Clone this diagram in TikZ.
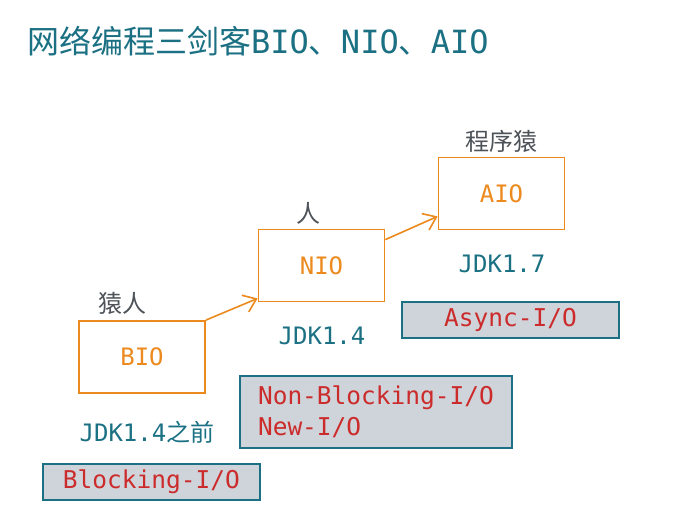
\documentclass[tikz,border=0pt]{standalone}
\usepackage{fontspec}
\setmonofont{DejaVu Sans Mono}
\newfontfamily\cjk{Noto Sans CJK SC}
\usetikzlibrary{arrows.meta,positioning}
\definecolor{ioorange}{HTML}{EC8A1E}
\definecolor{ioteal}{HTML}{1B7183}
\definecolor{iogray}{HTML}{CED4DA}
\definecolor{iored}{HTML}{CC2B2B}
\definecolor{iotext}{HTML}{4D5358}
\tikzset{
  iobox/.style={draw=ioorange,line width=1.8pt,minimum width=126pt,minimum height=72pt,
    text=ioorange,font=\ttfamily\fontsize{24}{28}\selectfont},
  tagbox/.style={draw=ioteal,fill=iogray,line width=1.8pt,inner sep=0pt,
    text=iored,font=\ttfamily\fontsize{24.5}{31}\selectfont},
  jdk/.style={text=ioteal,font=\ttfamily\fontsize{24}{28}\selectfont,inner sep=0pt},
  who/.style={text=iotext,font=\cjk\fontsize{24}{26}\selectfont,inner sep=0pt},
  flow/.style={draw=ioorange,line width=1.6pt,-{Straight Barb[length=12pt,width=18pt]}}
}
\begin{document}
\begin{tikzpicture}[x=1pt,y=-1pt]
  \useasboundingbox[fill=white] (0,0) rectangle (687,531);
  % title
  \node[anchor=base west,inner sep=0pt,text=ioteal,font=\fontsize{32}{36}\selectfont] (title) at (27,53)
    {{\cjk 网络编程三剑客}\texttt{BIO}{\cjk 、}\texttt{NIO}{\cjk 、}\texttt{AIO}};
  % the three models
  \node[iobox] (bio) at (142,357) {BIO};
  \node[iobox] (nio) at (321.5,265.5) {NIO};
  \node[iobox] (aio) at (501.5,193.5) {AIO};
  \node[who] (bioWho) at (122,303) {猿人};
  \node[who] (nioWho) at (308,213) {人};
  \node[who] (aioWho) at (501,141) {程序猿};
  \node[jdk] (bioJdk) at (147,432) {JDK1.4{\cjk 之前}};
  \node[jdk] (nioJdk) at (322,336) {JDK1.4};
  \node[jdk] (aioJdk) at (502,264) {JDK1.7};
  % arrows
  \draw[flow] (bio.north east) -- ([yshift=4pt]nio.south west);
  \draw[flow] ([yshift=-11pt]nio.north east) -- ([yshift=14pt]aio.south west);
  % io kinds
  \node[tagbox,minimum width=217pt,minimum height=36pt] (bioTag) at (151.5,482) {Blocking-I/O};
  \node[tagbox,minimum width=272pt,minimum height=72pt,align=left] (nioTag) at (376,412)
    {Non-Blocking-I/O\\New-I/O};
  \node[tagbox,minimum width=217pt,minimum height=36pt] (aioTag) at (510.5,320) {Async-I/O};
\end{tikzpicture}
\end{document}
